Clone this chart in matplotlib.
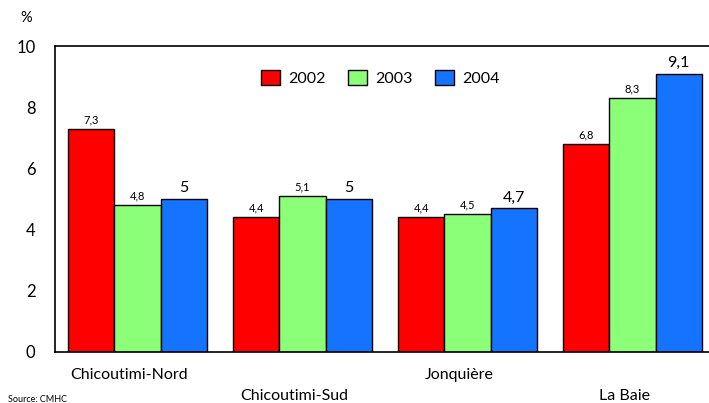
import matplotlib
matplotlib.use("Agg")
import matplotlib.pyplot as plt
import numpy as np

categories = ["Chicoutimi-Nord", "Chicoutimi-Sud", "Jonquière", "La Baie"]
years = ["2002", "2003", "2004"]
v2002 = [7.3, 4.4, 4.4, 6.8]
v2003 = [4.8, 5.1, 4.5, 8.3]
v2004 = [5.0, 5.0, 4.7, 9.1]
labels2002 = ["7,3", "4,4", "4,4", "6,8"]
labels2003 = ["4,8", "5,1", "4,5", "8,3"]
labels2004 = ["5", "5", "4,7", "9,1"]
yticks = [0, 2, 4, 6, 8, 10]

plt.rcParams['font.family'] = ['Lato', 'DejaVu Sans']

fig = plt.figure(figsize=(7.09, 4.03), dpi=100)
ax = fig.add_axes([55/709, (403-352)/403, 660/709, 306/403])

colors = ["#FF0000", "#8CFF78", "#1473FF"]
w = 0.279
x = np.arange(len(categories))
series = [v2002, v2003, v2004]
lbls = [labels2002, labels2003, labels2004]
for i, (vals, lab, c, yr) in enumerate(zip(series, lbls, colors, years)):
    pos = x + (i - 1) * w
    ax.bar(pos, vals, width=w, color=c, edgecolor="black", linewidth=1.0, label=yr)
    for p, v, t in zip(pos, vals, lab):
        if i == 2:
            ax.text(p, v + 0.12, t, ha="center", va="bottom", fontsize=11.5)
        else:
            ax.text(p, v + 0.12, t, ha="center", va="bottom", fontsize=8)

ax.set_xlim(-0.5, 3.5)
ax.set_ylim(0, 10)
ax.set_yticks(yticks)
ax.set_yticklabels([str(t) for t in yticks], fontsize=12)
ax.tick_params(axis="y", length=0, pad=14)
ax.set_xticks([])
ax.spines["right"].set_visible(False)
for s in ["top", "left", "bottom"]:
    ax.spines[s].set_linewidth(1.2)

for i, c in enumerate(categories):
    yoff = -0.75 if i % 2 == 0 else -1.45
    ax.text(x[i] - 0.05, yoff, c, ha="center", va="center", fontsize=11.5, clip_on=False)

fig.text(26/709, 1 - 18/403, "%", ha="center", va="center", fontsize=10.5)
fig.text(8/709, 1 - 400/403, "Source: CMHC", ha="left", va="center", fontsize=6.5)

leg = ax.legend(loc="upper center", bbox_to_anchor=(0.493, 0.97), ncol=3, frameon=False,
                fontsize=11.5, handlelength=1.2, handleheight=1.1, columnspacing=1.4,
                handletextpad=0.5)

fig.savefig("out.png", dpi=100)
